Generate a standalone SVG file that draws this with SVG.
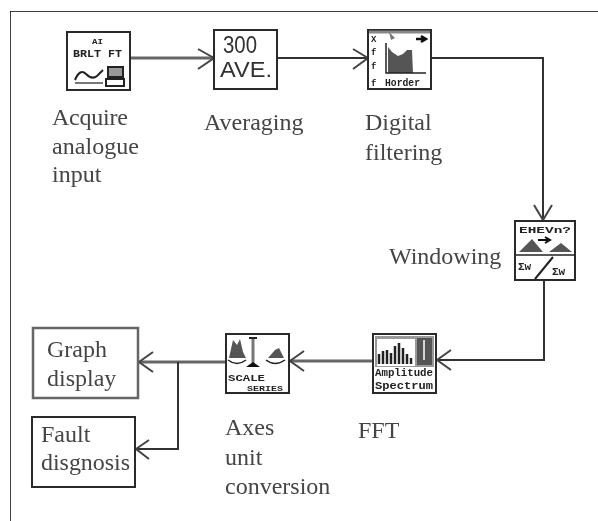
<svg xmlns="http://www.w3.org/2000/svg" width="598" height="521" viewBox="0 0 598 521">
<style>
.t{font-family:"Liberation Serif","Times New Roman",serif;font-size:24px;fill:#444}
.ic{font-family:"Liberation Mono",monospace;fill:#222;font-weight:bold}
.box{fill:#fff;stroke:#2a2a2a;stroke-width:2}
.c{fill:none;stroke:#333;stroke-width:2}
.th{fill:none;stroke:#666;stroke-width:3}
.g{fill:#555;stroke:none}
.h{fill:none;stroke:#444;stroke-width:2}
</style>
<defs>
<filter id="b" x="0" y="0" width="100%" height="100%"><feGaussianBlur stdDeviation="0.55"/></filter>
</defs>
<rect width="598" height="521" fill="#fff"/>
<g filter="url(#b)">
<path d="M598 11H10V521" fill="none" stroke="#000" stroke-width="1.5"/>
<g id="connectors">
<path class="th" d="M131 58H213"/><path class="h" d="M198 49L214 58L198 69"/>
<path class="c" d="M277 58H368"/><path class="h" d="M353 49L368 58L353 69"/>
<path class="c" d="M431 58H543V220"/><path class="h" d="M534 205L543 220L552 205"/>
<path class="c" d="M544 281V360H437"/><path class="h" d="M451 350L437 360L451 370"/>
<path class="th" d="M373 361H290"/><path class="h" d="M304 351L290 361L304 371"/>
<path class="th" d="M226 362H139"/><path class="h" d="M153 352L139 362L153 372"/>
<path class="c" d="M178 362V449H136"/><path class="h" d="M149 440L136 449L149 459"/>
</g>
<g id="acquire"><rect class="box" x="67" y="32" width="63" height="58"/>
<text class="ic" x="92" y="44" font-size="7" textLength="11" lengthAdjust="spacingAndGlyphs">AI</text>
<text class="ic" x="73" y="57" font-size="10" textLength="49" lengthAdjust="spacingAndGlyphs">BRLT FT</text>
<path d="M75 80q5-12 11-6t11 2q4-4 6-6" fill="none" stroke="#222" stroke-width="2"/>
<path d="M75 83H103" stroke="#777" stroke-width="2"/>
<rect x="108" y="67" width="15" height="10" fill="#999" stroke="#222" stroke-width="2"/><rect x="106" y="79" width="18" height="7" fill="#fff" stroke="#222" stroke-width="2"/>
<text class="t" x="52" y="125" textLength="76">Acquire</text><text class="t" x="52" y="154" textLength="87">analogue</text><text class="t" x="52" y="182">input</text></g>
<g id="averaging"><rect class="box" x="214" y="30" width="63" height="59"/>
<text x="223" y="53" font-family="Liberation Sans" font-size="24" fill="#333" textLength="34" lengthAdjust="spacingAndGlyphs">300</text>
<text x="220" y="77" font-family="Liberation Sans" font-size="22" fill="#333" textLength="52" lengthAdjust="spacingAndGlyphs">AVE.</text>
<text class="t" x="204" y="130">Averaging</text></g>
<g id="filtering"><rect class="box" x="368" y="30" width="63" height="59"/>
<path d="M369 32H430" stroke="#888" stroke-width="3"/><path d="M389 32L395 38L391 40Z" fill="#777"/>
<path class="g" d="M388 47L392 52L398 56L403 54L407 50L412 50L413 73H388Z"/><path d="M386 43V73H426" fill="none" stroke="#222" stroke-width="1.5"/>
<text class="ic" x="371" y="42" font-size="9">X</text><text class="ic" x="371" y="55" font-size="9">f</text><text class="ic" x="371" y="69" font-size="9">f</text>
<path d="M416 39H424M421 36L426 39L421 42" stroke="#111" stroke-width="2.5" fill="none"/>
<text class="ic" x="371" y="86" font-size="9">f</text><text class="ic" x="385" y="86" font-size="10" textLength="35" lengthAdjust="spacingAndGlyphs">Horder</text>
<text class="t" x="365" y="130">Digital</text><text class="t" x="365" y="160">filtering</text></g>
<g id="windowing"><rect class="box" x="515" y="221" width="60" height="59"/>
<text class="ic" x="519" y="233" font-size="9.5" textLength="52" lengthAdjust="spacingAndGlyphs">EHEVn?</text>
<path class="g" d="M519 252L532 239L543 252ZM549 252L561 243L572 252Z"/>
<path d="M538 240H548M545 237L550 240L545 243" stroke="#111" stroke-width="2" fill="none"/>
<path d="M516 255H574" stroke="#222" stroke-width="1.5"/><path d="M535 279L553 257" stroke="#222" stroke-width="2" fill="none"/>
<text class="ic" x="518" y="270" font-size="11">Σw</text><text class="ic" x="552" y="275" font-size="11">Σw</text>
<text class="t" x="389" y="264">Windowing</text></g>
<g id="fft"><rect class="box" x="373" y="334" width="63" height="59"/>
<rect x="375" y="336" width="59" height="55" fill="#999"/><rect x="377" y="339" width="38" height="27" fill="#fff"/>
<path d="M379 364V354M383 364V351M387 364V350M391 364V353M395 364V346M399 364V343M403 364V348M407 364V354M411 364V358" stroke="#222" stroke-width="2.5"/>
<rect x="417" y="338" width="15" height="27" fill="#555"/><path d="M424 340V360" stroke="#fff" stroke-width="1.5"/>
<rect x="375" y="367" width="59" height="25" fill="#fff"/>
<text class="ic" x="375" y="376" font-size="10" textLength="58" lengthAdjust="spacingAndGlyphs">Amplitude</text><text class="ic" x="375" y="389" font-size="10" textLength="58" lengthAdjust="spacingAndGlyphs">Spectrum</text>
<text class="t" x="358" y="438">FFT</text></g>
<g id="axes"><rect class="box" x="226" y="334" width="63" height="59"/>
<path d="M253 338V363" stroke="#777" stroke-width="3"/><path d="M249 338H257" stroke="#222" stroke-width="2"/>
<path d="M246 367L253 362L260 367Z" fill="#111"/>
<path class="g" fill="#111" d="M229 358L233 340L237 345L240 339L243 352L246 358ZM268 358L275 350L279 348L284 358Z"/>
<path d="M228 360Q237 367 246 360M266 360Q275 367 285 360" fill="none" stroke="#222" stroke-width="1.5"/>
<text class="ic" x="228" y="381" font-size="9" textLength="37" lengthAdjust="spacingAndGlyphs">SCALE</text><text class="ic" x="247" y="391" font-size="8" textLength="36" lengthAdjust="spacingAndGlyphs">SERIES</text>
<text class="t" x="225" y="435">Axes</text><text class="t" x="225" y="465">unit</text><text class="t" x="225" y="494">conversion</text></g>
<g id="graph"><rect x="33" y="328" width="105" height="70" fill="#fff" stroke="#666" stroke-width="2.5"/>
<text class="t" x="47" y="357">Graph</text><text class="t" x="47" y="386">display</text></g>
<g id="fault"><rect class="box" x="32" y="417" width="103" height="70"/>
<text class="t" x="41" y="442">Fault</text><text class="t" x="41" y="470" textLength="89">disgnosis</text></g>
</g>
</svg>
